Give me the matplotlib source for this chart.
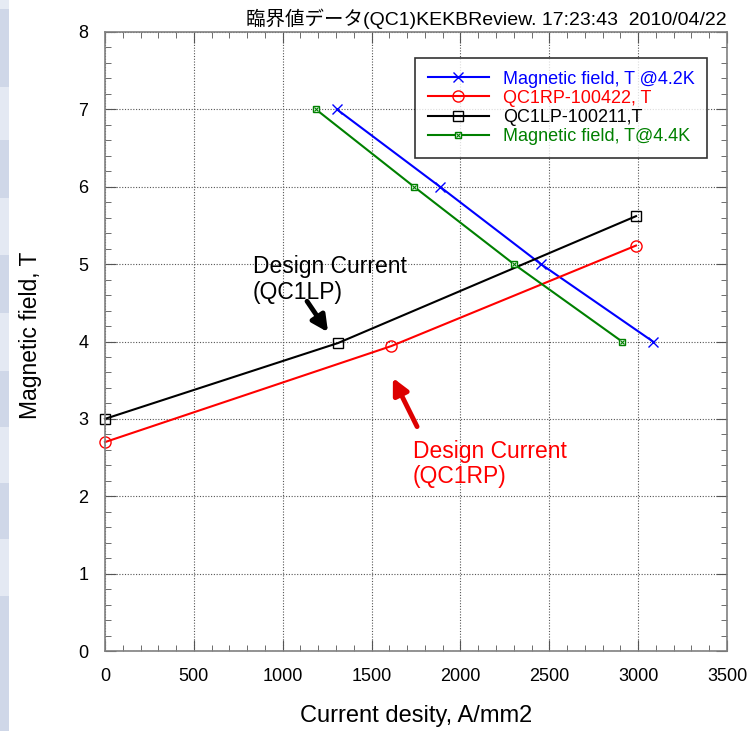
import matplotlib
matplotlib.use('Agg')
import matplotlib.pyplot as plt
from matplotlib.patches import Rectangle
from matplotlib.ticker import MultipleLocator

plt.rcParams['font.family'] = ['Liberation Sans', 'Noto Sans CJK JP', 'DejaVu Sans']

# data
x_42k = [1305, 1885, 2453, 3083]
y_42k = [7.0, 6.0, 5.0, 4.0]
x_rp = [0, 1610, 2988]
y_rp = [2.70, 3.94, 5.24]
x_lp = [0, 1311, 2988]
y_lp = [3.00, 3.98, 5.62]
x_44k = [1187, 1739, 2301, 2909]
y_44k = [7.0, 6.0, 5.0, 4.0]

labels = ['Magnetic field, T @4.2K', 'QC1RP-100422, T',
          'QC1LP-100211,T', 'Magnetic field, T@4.4K']
title = '臨界値データ(QC1)KEKBReview. 17:23:43  2010/04/22'

fig = plt.figure(figsize=(7.5, 7.31), dpi=100)

# slide background strip on the left
strip = [(0, 9, '#e6ebf4'), (9, 87, '#cfd7e8'), (87, 140, '#e4e9f3'),
         (140, 198, '#cfd7e8'), (198, 255, '#e4e9f3'), (255, 313, '#cfd7e8'),
         (313, 371, '#e4e9f3'), (371, 427, '#cfd7e8'), (427, 483, '#e4e9f3'),
         (483, 539, '#cfd7e8'), (539, 596, '#e4e9f3'), (596, 731, '#cfd7e8')]
for y0, y1, c in strip:
    fig.patches.append(Rectangle((0, 1 - y1 / 731), 9 / 750, (y1 - y0) / 731,
                                 transform=fig.transFigure, color=c, lw=0))

ax = fig.add_axes([105 / 750, 1 - 651 / 731, 622 / 750, 619 / 731])

l1, = ax.plot(x_42k, y_42k, color='#0000ff', lw=1.5, marker='x', ms=7,
              mew=1.0, label=labels[0], clip_on=False)
l2, = ax.plot(x_rp, y_rp, color='#ff0000', lw=1.5, marker='o', ms=8,
              mfc='none', mew=1.0, label=labels[1], clip_on=False)
l3, = ax.plot(x_lp, y_lp, color='black', lw=1.5, marker='s', ms=7,
              mfc='none', mew=1.0, label=labels[2], clip_on=False)
l4, = ax.plot(x_44k, y_44k, color='#008000', lw=1.5, marker='s', ms=5,
              mfc='white', mew=1.0, clip_on=False)
l4x, = ax.plot(x_44k, y_44k, color='#008000', ls='none', marker='x', ms=3.5,
               mew=0.8, clip_on=False)

ax.set_xlim(0, 3500)
ax.set_ylim(0, 8)
ax.xaxis.set_major_locator(MultipleLocator(500))
ax.xaxis.set_minor_locator(MultipleLocator(100))
ax.yaxis.set_major_locator(MultipleLocator(1))
ax.yaxis.set_minor_locator(MultipleLocator(0.2))
ax.tick_params(which='both', direction='in', top=True, right=True,
               color='#555555', labelsize=13, pad=12)
ax.tick_params(which='major', length=8)
ax.tick_params(which='minor', length=4)
for s in ax.spines.values():
    s.set_color('#808080')
    s.set_linewidth(1.2)
ax.grid(True, which='major', ls=(0, (1, 1.5)), color='#555555', lw=0.8)

ax.set_xlabel('Current desity, A/mm2', fontsize=17)
ax.set_ylabel('Magnetic field, T', fontsize=16.5)
ax.xaxis.set_label_coords(0.5, -0.087)
ax.yaxis.set_label_coords(-0.101, 0.51)
ax.set_title(title, fontsize=14, loc='right', pad=5)

leg = ax.legend([l1, l2, l3, (l4, l4x)], labels, loc='upper right',
                bbox_to_anchor=(0.968, 0.958), borderaxespad=0, fontsize=13,
                frameon=True, fancybox=False, edgecolor='black',
                handlelength=3.4, handletextpad=0.75,
                labelspacing=0.12, borderpad=0.7)
leg.get_frame().set_linewidth(1.2)
for t, c in zip(leg.get_texts(), ['#0000ff', '#ff0000', 'black', '#008000']):
    t.set_color(c)

ax.text(833, 5.12, 'Design Current\n(QC1LP)', fontsize=16.5, color='black',
        va='top', ha='left', linespacing=1.15)
ax.annotate('', xy=(1255, 4.12), xytext=(1137, 4.52),
            arrowprops=dict(arrowstyle='-|>', color='black', lw=3.5,
                            mutation_scale=24, shrinkA=0, shrinkB=0))
ax.text(1733, 2.73, 'Design Current\n(QC1RP)', fontsize=16.5, color='#ff0000',
        va='top', ha='left', linespacing=1.15)
ax.annotate('', xy=(1620, 3.53), xytext=(1756, 2.90),
            arrowprops=dict(arrowstyle='-|>', color='#dd0000', lw=3.5,
                            mutation_scale=24, shrinkA=0, shrinkB=0))

fig.savefig('out.png', dpi=100)
